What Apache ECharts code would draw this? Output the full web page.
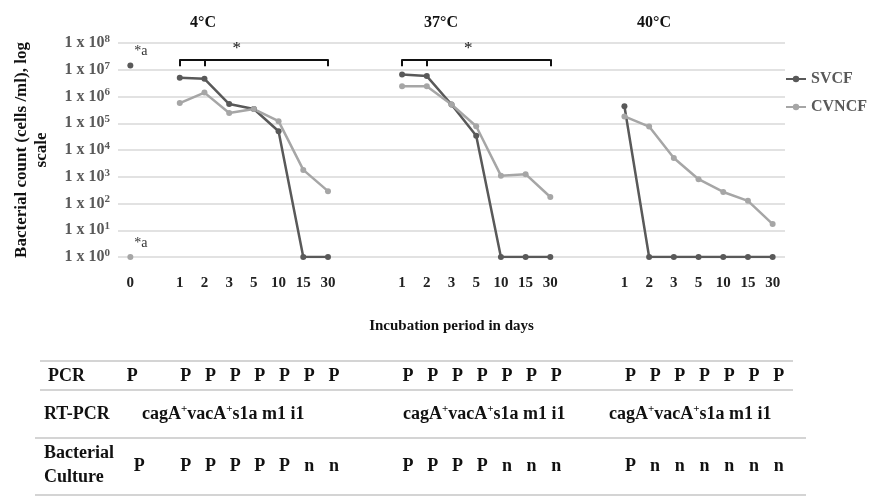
<!DOCTYPE html>
<html>
<head>
<meta charset="utf-8">
<script src="https://cdn.jsdelivr.net/npm/echarts@6/dist/echarts.min.js"></script>
<style>html,body{margin:0;padding:0;background:#fff}</style>
</head>
<body>
<div id="main" style="width:872px;height:496px;"></div>
<script type="text/javascript">
  // 横轴：0 天 + 三个温度组（组间留空位）
  var days = ['0', '', '1', '2', '3', '5', '10', '15', '30', '', '', '1', '2', '3', '5', '10', '15', '30', '', '', '1', '2', '3', '5', '10', '15', '30'];
  var svcf = [1.45e7, '-', 5e6, 4.6e6, 5.2e5, 3.4e5, 5e4, 1, 1, '-', '-', 6.6e6, 5.8e6, 5e5, 3.4e4, 1, 1, 1, '-', '-', 4.3e5, 1, 1, 1, 1, 1, 1];
  var cvncf = [1, '-', 5.7e5, 1.4e6, 2.4e5, 3.4e5, 1.2e5, 1.8e3, 290, '-', '-', 2.4e6, 2.4e6, 5e5, 7.7e4, 1.1e3, 1.25e3, 175, '-', '-', 1.8e5, 7.5e4, 5e3, 810, 270, 126, 17];
  var temps = ['4°C', '37°C', '40°C'];
  // 下方表格
  var pcrRow = ['P', '', 'P', 'P', 'P', 'P', 'P', 'P', 'P', '', '', 'P', 'P', 'P', 'P', 'P', 'P', 'P', '', '', 'P', 'P', 'P', 'P', 'P', 'P', 'P'];
  var cultureRow = ['P', '', 'P', 'P', 'P', 'P', 'P', 'n', 'n', '', '', 'P', 'P', 'P', 'P', 'n', 'n', 'n', '', '', 'P', 'n', 'n', 'n', 'n', 'n', 'n'];
  var rtText = 'cagA{s|+}vacA{s|+}s1a m1 i1';
  // 显著性括号 [左, 中, 右]
  var brackets = [[2, 3, 8], [11, 12, 17]];

  var dark = '#595959';
  var light = '#a6a6a6';
  var serif = '"Liberation Serif", "Times New Roman", serif';
  var brTop = 2.45e7, brLow = 1.35e7;
  var starShift = [-17, -8];
  var titleX = [203, 441, 654];
  var rtX = [142, 403, 609];

  var markData = [];
  brackets.forEach(function (b, k) {
    markData.push([{ coord: [b[0], brTop], label: { show: true, formatter: '*', offset: [starShift[k], 0] } }, { coord: [b[2], brTop] }]);
    b.forEach(function (x) {
      markData.push([{ coord: [x, brTop], label: { show: false } }, { coord: [x, brLow] }]);
    });
  });

  var starA = { show: true, position: [7, -18], formatter: '*a', fontFamily: serif, fontSize: 14, color: '#333' };

  var option = {
    animation: false,
    backgroundColor: '#fff',
    legend: {
      data: ['SVCF', 'CVNCF'],
      orient: 'vertical',
      left: 780,
      top: 66,
      itemWidth: 20,
      itemHeight: 8,
      itemGap: 12,
      textStyle: { fontFamily: serif, fontWeight: 'bold', fontSize: 16, color: dark }
    },
    grid: { left: 118, right: 87, top: 43, bottom: 239 },
    xAxis: {
      type: 'category',
      data: days,
      axisLine: { show: false },
      axisTick: { show: false },
      axisLabel: { interval: 0, margin: 19, fontFamily: serif, fontWeight: 'bold', fontSize: 15, color: '#222' },
      name: 'Incubation period in days',
      nameLocation: 'middle',
      nameGap: 62,
      nameTextStyle: { fontFamily: serif, fontWeight: 'bold', fontSize: 15, color: '#111' }
    },
    yAxis: {
      type: 'log',
      logBase: 10,
      min: 1,
      max: 1e8,
      splitNumber: 8,
      axisLine: { show: false },
      axisTick: { show: false },
      splitLine: { lineStyle: { color: '#d9d9d9', width: 1.5 } },
      axisLabel: {
        margin: 8,
        formatter: function (v) {
          return '{b|1 x 10}{s|' + Math.round(Math.log10(v)) + '}';
        },
        rich: {
          b: { fontFamily: serif, fontWeight: 'bold', fontSize: 16, color: dark },
          s: { fontFamily: serif, fontWeight: 'bold', fontSize: 11, color: dark, padding: [0, 0, 8, 0] }
        }
      },
      name: 'Bacterial count (cells /ml), log\nscale',
      nameLocation: 'middle',
      nameGap: 66,
      nameTextStyle: { fontFamily: serif, fontWeight: 'bold', fontSize: 17, color: '#111', lineHeight: 20 }
    },
    series: [
      {
        name: 'SVCF',
        type: 'line',
        data: svcf.map(function (v, i) {
          return i === 0 ? { value: v, label: starA } : v;
        }),
        connectNulls: false,
        symbol: 'circle',
        symbolSize: 6,
        lineStyle: { color: dark, width: 2.5 },
        itemStyle: { color: dark }
      },
      {
        name: 'CVNCF',
        type: 'line',
        data: cvncf.map(function (v, i) {
          return i === 0 ? { value: v, label: starA } : v;
        }),
        connectNulls: false,
        symbol: 'circle',
        symbolSize: 6,
        lineStyle: { color: light, width: 2.5 },
        itemStyle: { color: light }
      },
      {
        name: 'bracket',
        type: 'line',
        data: [],
        markLine: {
          silent: true,
          symbol: 'none',
          lineStyle: { color: '#111', width: 2, type: 'solid' },
          label: { position: 'middle', fontFamily: serif, fontSize: 17, color: '#111', distance: 2 },
          data: markData
        }
      }
    ]
  };

  var myChart = echarts.init(document.getElementById('main'));
  myChart.setOption(option);

  // 标题与表格用 graphic 画，列位置取自类目轴
  var graphic = [];
  temps.forEach(function (t, k) {
    graphic.push({ type: 'text', x: titleX[k], y: 23, style: { text: t, fontFamily: serif, fontWeight: 'bold', fontSize: 16, fill: '#111', textAlign: 'center', textVerticalAlign: 'middle' } });
  });
  var lines = [[40, 361, 793], [40, 390, 793], [35, 438, 806], [35, 495, 806]];
  lines.forEach(function (l) {
    graphic.push({ type: 'line', shape: { x1: l[0], y1: l[1], x2: l[2], y2: l[1] }, style: { stroke: '#d4d4d4', lineWidth: 2 } });
  });
  var cellFont = { fontFamily: serif, fontWeight: 'bold', fontSize: 18, fill: '#111', textVerticalAlign: 'middle' };
  function txt(s, x, y, align) {
    graphic.push({ type: 'text', x: x, y: y, style: Object.assign({ text: s, textAlign: align || 'left' }, cellFont) });
  }
  txt('PCR', 48, 376);
  txt('RT-PCR', 44, 414);
  txt('Bacterial', 44, 453);
  txt('Culture', 44, 477);
  days.forEach(function (d, i) {
    var x = myChart.convertToPixel({ xAxisIndex: 0 }, i) + (i === 0 ? 2 : 6);
    if (pcrRow[i]) txt(pcrRow[i], x, 376, 'center');
    if (cultureRow[i]) txt(cultureRow[i], x + (i === 0 ? 7 : 0), 466, 'center');
  });
  rtX.forEach(function (x) {
    graphic.push({
      type: 'text', x: x, y: 414,
      style: {
        text: rtText, textVerticalAlign: 'middle',
        rich: {
          s: { fontFamily: serif, fontWeight: 'bold', fontSize: 11, fill: '#111', padding: [0, 0, 9, 0] }
        },
        fontFamily: serif, fontWeight: 'bold', fontSize: 18, fill: '#111'
      }
    });
  });
  myChart.setOption({ graphic: graphic });
</script>
</body>
</html>
